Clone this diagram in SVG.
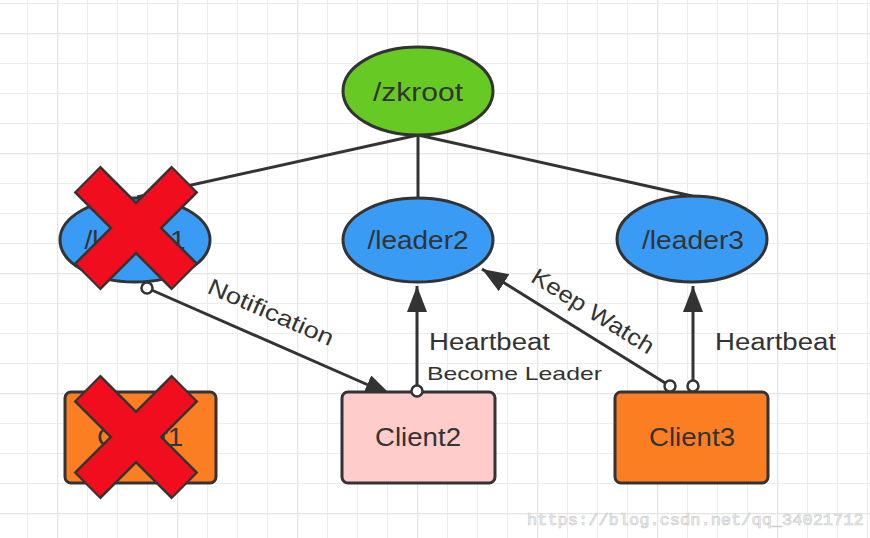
<svg xmlns="http://www.w3.org/2000/svg" width="870" height="538" viewBox="0 0 870 538">
<style>
.node{stroke:#333;stroke-width:3}
.lbl{font-family:"Liberation Sans",Arial,sans-serif;fill:#333}
.conn{stroke:#333;stroke-width:3;fill:none}
.dot{fill:#fff;stroke:#333;stroke-width:2.5}
.xo{stroke:#333;stroke-width:38;stroke-linecap:butt}
.xi{stroke:#f00d1e;stroke-width:33;stroke-linecap:butt}
</style>
<defs>
<pattern id="g" patternUnits="userSpaceOnUse" x="27" y="3" width="30" height="30">
<path d="M0,0H30M0,0V30" stroke="#ececec" stroke-width="2" fill="none"/>
</pattern>
<pattern id="gm" patternUnits="userSpaceOnUse" x="57" y="33" width="120" height="120">
<path d="M0,0H120M0,0V120" stroke="#e4e4e4" stroke-width="2.5" fill="none"/>
</pattern>
<marker id="ah" markerUnits="userSpaceOnUse" markerWidth="28" markerHeight="22" refX="26" refY="10" orient="auto">
<path d="M0,0 L26,10 L0,20 Z" fill="#333"/>
</marker>
</defs>
<rect width="870" height="538" fill="#fff"/>
<rect width="870" height="538" fill="url(#g)"/>
<rect width="870" height="538" fill="url(#gm)"/>

<g id="connectors">
<line class="conn" x1="418" y1="135" x2="137" y2="197"/>
<line class="conn" x1="418" y1="135" x2="418" y2="198"/>
<line class="conn" x1="418" y1="135" x2="692" y2="196"/>
<line class="conn" x1="147" y1="288" x2="391" y2="395" marker-end="url(#ah)"/>
<line class="conn" x1="417" y1="391" x2="417" y2="286" marker-end="url(#ah)"/>
<line class="conn" x1="670" y1="386" x2="482" y2="269" marker-end="url(#ah)"/>
<line class="conn" x1="693" y1="386" x2="693" y2="286" marker-end="url(#ah)"/>
<text class="lbl" font-size="23" text-anchor="middle" transform="translate(271,312) rotate(23.5)" y="8" textLength="135" lengthAdjust="spacingAndGlyphs">Notification</text>
<text class="lbl" font-size="23" text-anchor="middle" transform="translate(593,311) rotate(32)" y="8" textLength="140" lengthAdjust="spacingAndGlyphs">Keep Watch</text>
<text class="lbl" font-size="23" x="429" y="350" textLength="121" lengthAdjust="spacingAndGlyphs">Heartbeat</text>
<text class="lbl" font-size="19" x="427" y="380" textLength="175" lengthAdjust="spacingAndGlyphs">Become Leader</text>
<text class="lbl" font-size="23" x="715" y="350" textLength="121" lengthAdjust="spacingAndGlyphs">Heartbeat</text>
</g>

<g id="zkroot">
<ellipse class="node" cx="418" cy="91" rx="75" ry="44" fill="#67c923"/>
<text class="lbl" font-size="25" x="418" y="101" text-anchor="middle" textLength="90" lengthAdjust="spacingAndGlyphs">/zkroot</text>
</g>
<g id="leader1">
<ellipse class="node" cx="135" cy="240" rx="75" ry="42" fill="#3a9bf5"/>
<text class="lbl" font-size="25" x="135" y="249" text-anchor="middle" textLength="101" lengthAdjust="spacingAndGlyphs">/leader1</text>
</g>
<g id="leader2">
<ellipse class="node" cx="418" cy="240" rx="75" ry="42" fill="#3a9bf5"/>
<text class="lbl" font-size="25" x="418" y="249" text-anchor="middle" textLength="101" lengthAdjust="spacingAndGlyphs">/leader2</text>
</g>
<g id="leader3">
<ellipse class="node" cx="692" cy="239" rx="75" ry="43" fill="#3a9bf5"/>
<text class="lbl" font-size="25" x="693" y="249" text-anchor="middle" textLength="102" lengthAdjust="spacingAndGlyphs">/leader3</text>
</g>
<g id="client1">
<rect class="node" x="65" y="392" width="151" height="91" rx="6" fill="#fb7f22"/>
<text class="lbl" font-size="25" x="140" y="446" text-anchor="middle" textLength="86" lengthAdjust="spacingAndGlyphs">Client1</text>
</g>
<g id="client2">
<rect class="node" x="342" y="392" width="153" height="91" rx="6" fill="#ffcccc"/>
<text class="lbl" font-size="25" x="418" y="446" text-anchor="middle" textLength="86" lengthAdjust="spacingAndGlyphs">Client2</text>
</g>
<g id="client3">
<rect class="node" x="615" y="392" width="153" height="91" rx="6" fill="#fb7f22"/>
<text class="lbl" font-size="25" x="692" y="446" text-anchor="middle" textLength="86" lengthAdjust="spacingAndGlyphs">Client3</text>
</g>

<g id="endpoints">
<circle class="dot" cx="147" cy="288" r="5.5"/>
<circle class="dot" cx="417" cy="391" r="5.5"/>
<circle class="dot" cx="670" cy="386" r="5.5"/>
<circle class="dot" cx="693" cy="386" r="5.5"/>
</g>

<g id="cross-leader1">
<line class="xo" x1="87" y1="179" x2="185" y2="277"/>
<line class="xo" x1="185" y1="179" x2="87" y2="277"/>
<line class="xi" x1="88.5" y1="180.5" x2="183.5" y2="275.5"/>
<line class="xi" x1="183.5" y1="180.5" x2="88.5" y2="275.5"/>
</g>
<g id="cross-client1">
<line class="xo" x1="87" y1="388" x2="185" y2="486"/>
<line class="xo" x1="185" y1="388" x2="87" y2="486"/>
<line class="xi" x1="88.5" y1="389.5" x2="183.5" y2="484.5"/>
<line class="xi" x1="183.5" y1="389.5" x2="88.5" y2="484.5"/>
</g>

<text x="527" y="525" font-family="'Liberation Mono',monospace" font-size="17" fill="#f6f6f6" stroke="#cccccc" stroke-width="0.7">https://blog.csdn.net/qq_34021712</text>
</svg>
